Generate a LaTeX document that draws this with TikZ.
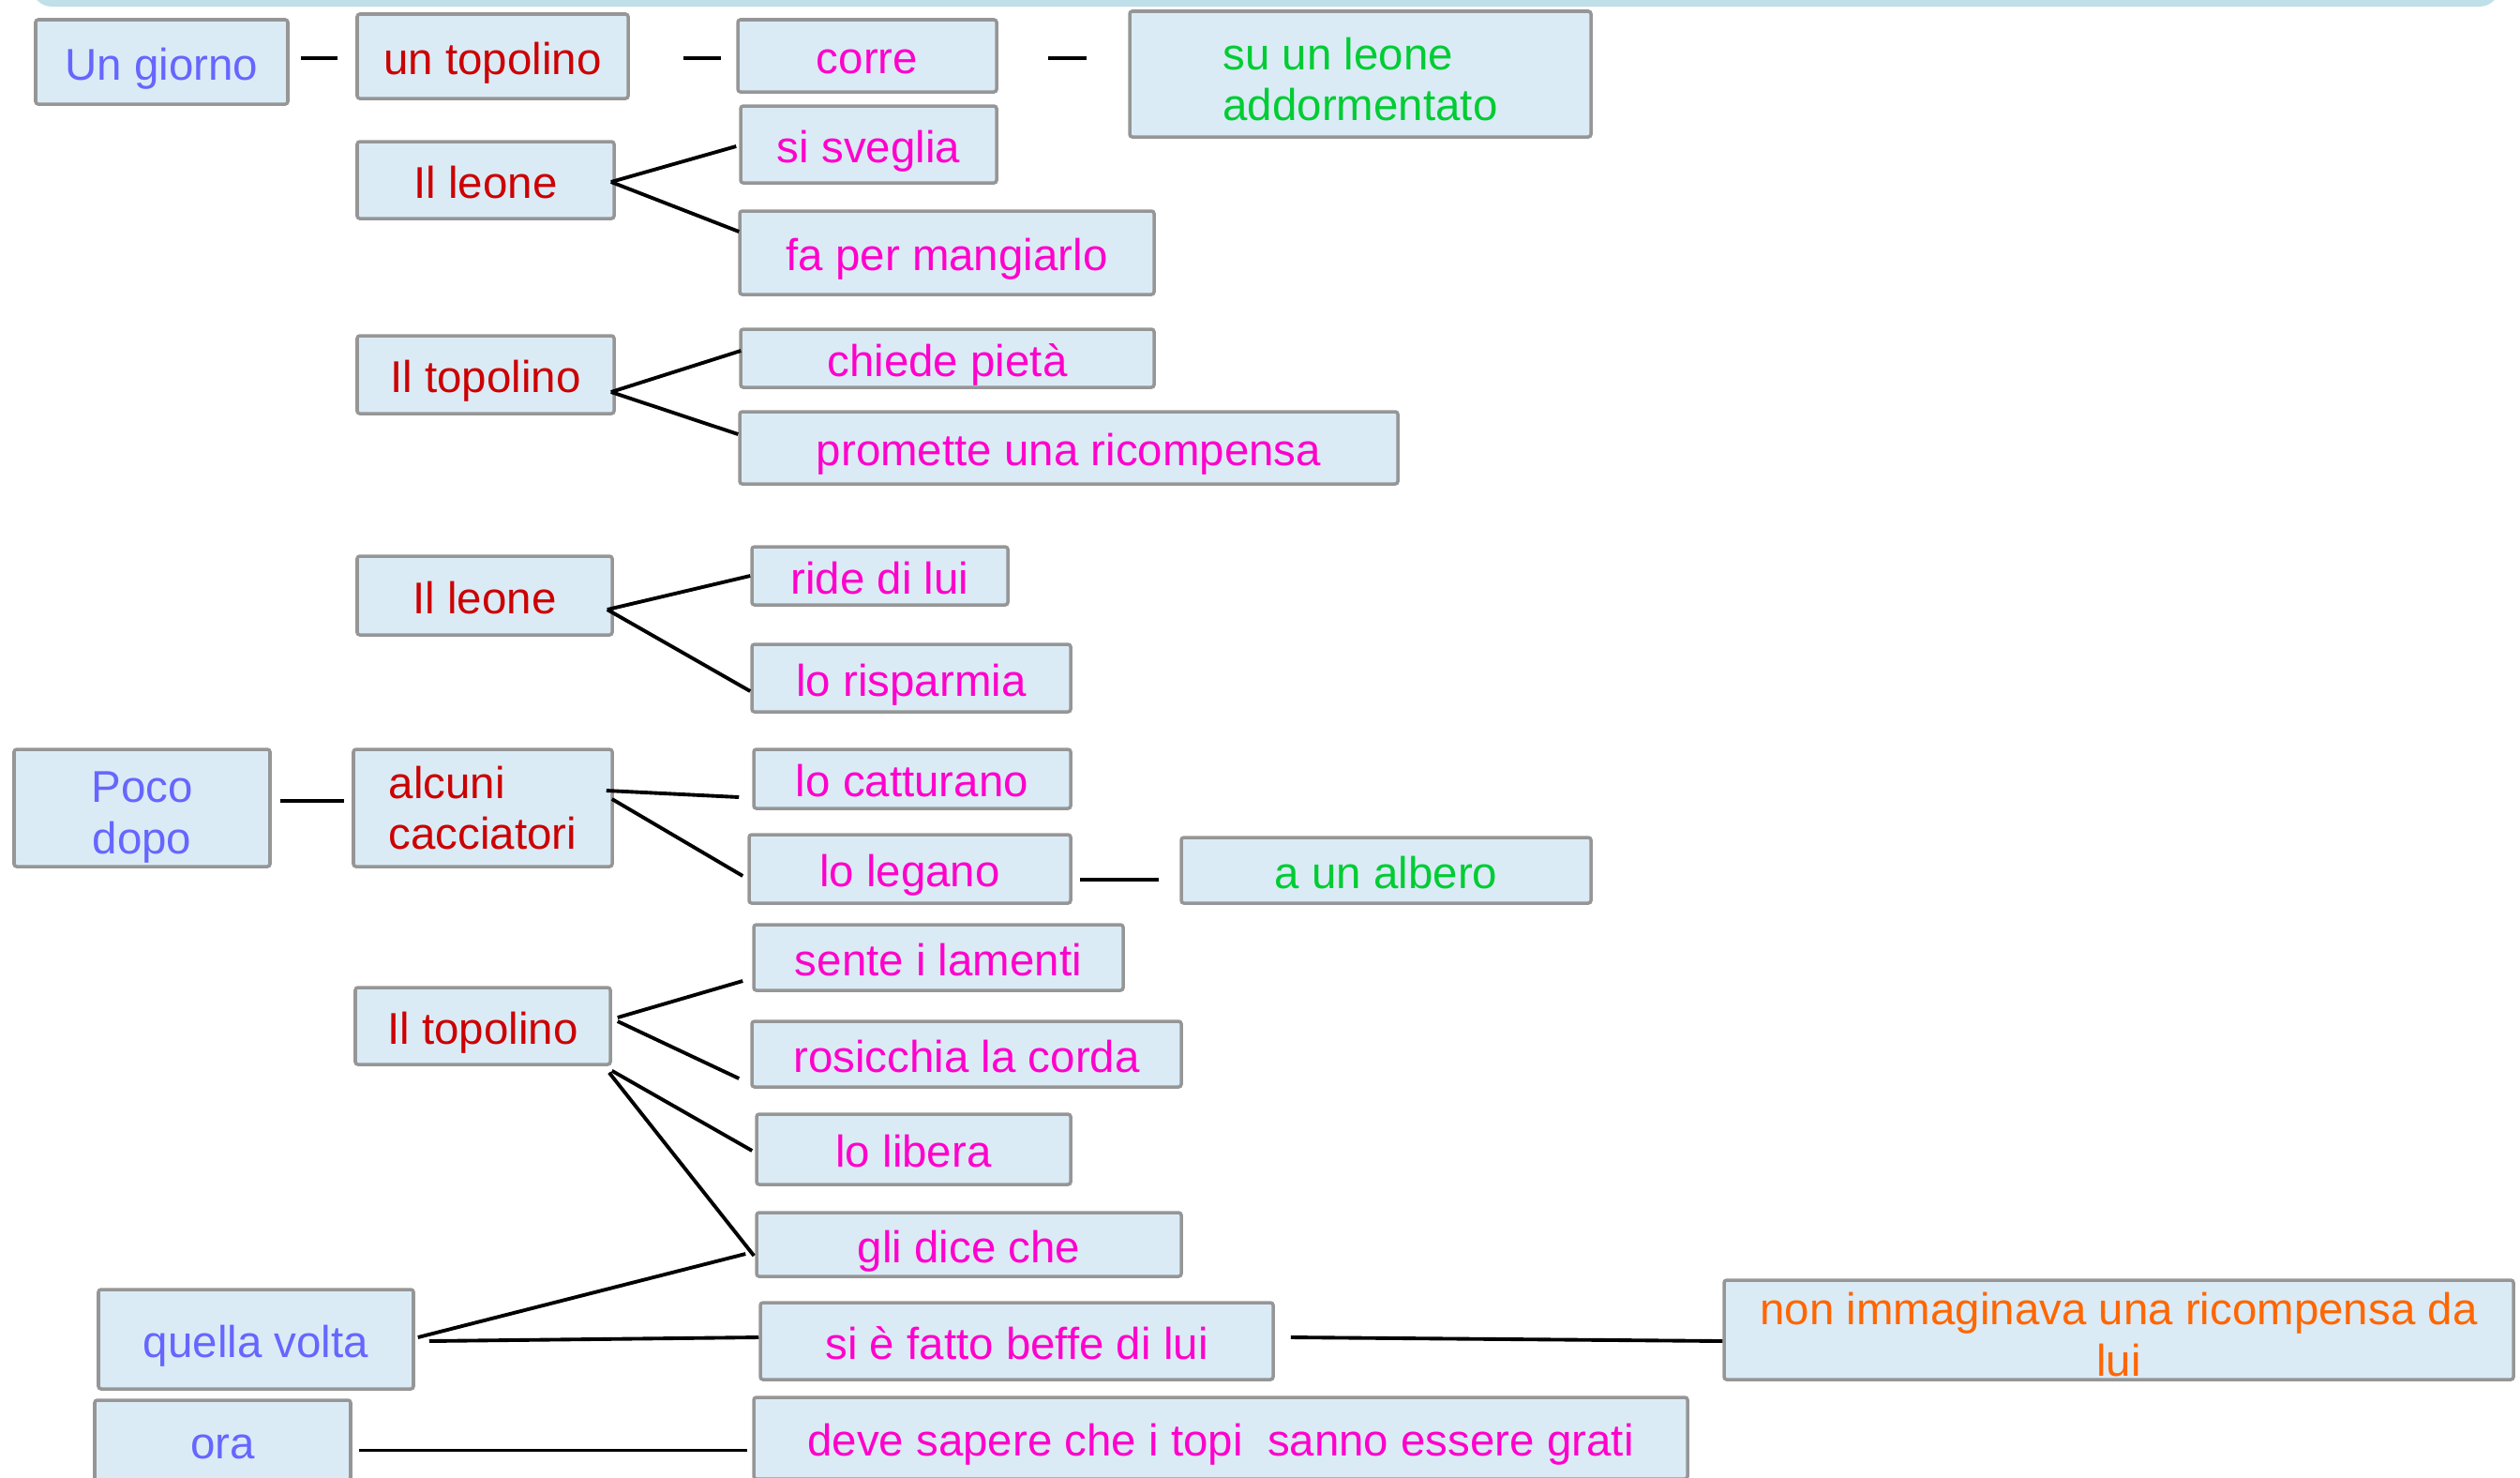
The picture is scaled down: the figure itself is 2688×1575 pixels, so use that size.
\documentclass[tikz,border=0pt]{standalone}
\usepackage{fontspec}
\setmainfont{Liberation Sans}
\usepackage{tikz}
\usetikzlibrary{calc}
\definecolor{boxfill}{RGB}{218,235,246}
\definecolor{boxline}{RGB}{150,150,150}
\definecolor{band}{RGB}{191,223,233}
\definecolor{tempo}{RGB}{102,102,255}
\definecolor{chi}{RGB}{204,0,0}
\definecolor{azione}{RGB}{255,0,204}
\definecolor{luogo}{RGB}{0,204,51}
\definecolor{nota}{RGB}{255,102,0}

\begin{document}
\begin{tikzpicture}[x=0.01cm,y=-0.01cm,
  box/.style={draw=boxline,fill=boxfill,line width=1pt,rounded corners=0.8pt,inner sep=0pt,
    align=center,font=\fontsize{13.5}{15.5}\selectfont},
  one/.style={text height=11pt,text depth=0pt},
  sz/.style 2 args={minimum width=#1*0.01cm,minimum height=#2*0.01cm},
  when/.style={box,text=tempo},
  who/.style={box,text=chi},
  does/.style={box,one,text=azione},
  where/.style={box,text=luogo},
  note/.style={box,text=nota},
  link/.style={line width=1.1pt}]
  \useasboundingbox (0,0) rectangle (2688,1575);
  \fill[band,rounded corners=6pt] (34,-60) rectangle (2666,7);

  % first row
  \node[when,one,sz={269}{90}] (giorno) at (172.5,66) {Un giorno};
  \node[who,one,sz={289}{90}] (topo0) at (525.5,60) {un topolino};
  \node[does,sz={276}{77}] (corre) at (925,59.5) {corre};
  \node[where,align=left,sz={492}{134}] (leone0) at (1451,79) {\rule{0pt}{13pt}su un leone\\addormentato};

  % the lion wakes up
  \node[who,one,sz={274}{82}] (leone1) at (518,192) {Il leone};
  \node[does,sz={273}{82}] (sveglia) at (926.5,154) {si sveglia};
  \node[does,sz={442}{89}] (mangiarlo) at (1010,269.5) {fa per mangiarlo};

  \node[who,one,sz={274}{83}] (topo1) at (518,399.5) {Il topolino};
  \node[does,sz={441}{62}] (pieta) at (1010.5,382) {chiede pietà};
  \node[does,sz={702}{77}] (ricompensa) at (1140,477.5) {promette una ricompensa};

  \node[who,one,sz={272}{84}] (leone2) at (517,635) {Il leone};
  \node[does,sz={273}{62}] (ride) at (938.5,614) {ride di lui};
  \node[does,sz={340}{72}] (risparmia) at (972,723) {lo risparmia};

  % the hunters
  \node[when,sz={273}{125}] (poco) at (151.5,861.5) {\rule{0pt}{15pt}Poco\\dopo};
  \node[who,align=left,sz={276}{125}] (cacciatori) at (515,861.5) {alcuni\\cacciatori};
  \node[does,sz={338}{63}] (catturano) at (973,830.5) {lo catturano};
  \node[does,sz={343}{73}] (legano) at (970.5,926.5) {lo legano};
  \node[where,one,sz={437}{70}] (albero) at (1478.5,928) {a un albero};

  % the mouse helps
  \node[who,one,sz={272}{82}] (topo2) at (515,1094) {Il topolino};
  \node[does,sz={394}{70}] (lamenti) at (1001,1021) {sente i lamenti};
  \node[does,sz={458}{70}] (corda) at (1031,1124) {rosicchia la corda};
  \node[does,sz={335}{75}] (libera) at (974.5,1225.5) {lo libera};
  \node[does,sz={453}{68}] (dice) at (1033.5,1327) {gli dice che};

  \node[when,one,sz={336}{106}] (volta) at (273,1428) {quella volta};
  \node[does,sz={547}{82}] (beffe) at (1084.5,1430) {si è fatto beffe di lui};
  \node[note,sz={842}{106}] (immaginava) at (2260,1418) {\rule{0pt}{12.5pt}non immaginava una ricompensa da\\lui};
  \node[when,one,sz={273}{87}] (ora) at (237.5,1536.5) {ora};
  \node[does,sz={996}{87}] (sapere) at (1302,1533.5) {deve sapere che i topi\ \ sanno essere grati};

  % connectors
  \draw[link] ($(giorno.east)+(12,-4)$) -- ($(topo0.west)+(-19,2)$);
  \draw[link] ($(topo0.east)+(57,2)$) -- ($(corre.west)+(-16,2.5)$);
  \draw[link] ($(corre.east)+(53,2.5)$) -- ($(leone0.west)+(-44,-17)$);

  \draw[link] ($(leone1.east)+(-5,2)$) -- ($(sveglia.west)+(-3,2)$);
  \draw[link] ($(leone1.east)+(-5,2)$) -- ($(mangiarlo.west)+(1,-22.5)$);
  \draw[link] ($(topo1.east)+(-5,18.5)$) -- ($(pieta.west)+(2,-8)$);
  \draw[link] ($(topo1.east)+(-5,18.5)$) -- ($(ricompensa.west)+(0,-14.5)$);
  \draw[link] ($(leone2.east)+(-7,15)$) -- (ride.west);
  \draw[link] ($(leone2.east)+(-7,15)$) -- ($(risparmia.west)+(0,14)$);

  \draw[link] ($(poco.east)+(9,-7.5)$) -- ($(cacciatori.west)+(-8,-7.5)$);
  \draw[link] ($(cacciatori.east)+(-8,-18.5)$) -- ($(catturano.west)+(-14,19.5)$);
  \draw[link] ($(cacciatori.east)+(-2,-9.5)$) -- ($(legano.west)+(-5,7.5)$);
  \draw[link] ($(legano.east)+(8,11.5)$) -- ($(albero.west)+(-22,10)$);

  \draw[link] ($(topo2.east)+(6,-9)$) -- ($(lamenti.west)+(-10,25)$);
  \draw[link] ($(topo2.east)+(6,-5)$) -- ($(corda.west)+(-12,26)$);
  \draw[link] ($(topo2.south east)+(0,5)$) -- ($(libera.west)+(-3,1.5)$);
  \draw[link] ($(topo2.south east)+(-3,7)$) -- ($(dice.west)+(-1,12)$);

  \draw[link] ($(volta.east)+(3,-2)$) -- ($(dice.west)+(-10,10)$);
  \draw[link] ($(volta.east)+(15,2)$) -- ($(beffe.west)+(0,-4)$);
  \draw[link] ($(beffe.east)+(17,-4)$) -- ($(immaginava.west)+(0,12)$);
  \draw[link] ($(ora.east)+(7,10)$) -- ($(sapere.west)+(-5,13)$);
\end{tikzpicture}
\end{document}
